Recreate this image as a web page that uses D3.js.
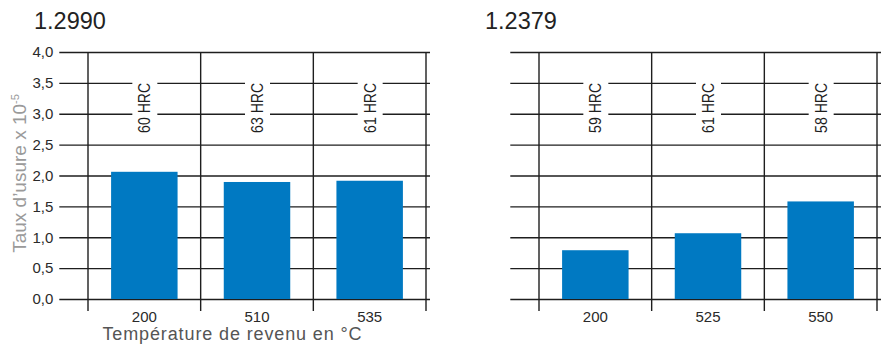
<!DOCTYPE html>
<html>
<head>
<meta charset="utf-8">
<script src="https://cdn.jsdelivr.net/npm/d3@7"></script>
<style>
  html, body { margin: 0; padding: 0; background: #fff; }
  svg { display: block; }
  text { font-family: "Liberation Sans", Arial, Helvetica, sans-serif; }
</style>
</head>
<body>
<svg id="chart" width="883" height="344"></svg>
<script>
// Wear rate (x 10^-5) by tempering temperature, two tool steels
const steels = ["1.2990", "1.2379"];

const temps2990 = ["200", "510", "535"];
const wear2990 = [2.06, 1.895, 1.915];
const hardness2990 = ["60 HRC", "63 HRC", "61 HRC"];

const temps2379 = ["200", "525", "550"];
const wear2379 = [0.79, 1.065, 1.58];
const hardness2379 = ["59 HRC", "61 HRC", "58 HRC"];

const yTicks = [0, 0.5, 1.0, 1.5, 2.0, 2.5, 3.0, 3.5, 4.0];
const yTickLabels = ["0,0", "0,5", "1,0", "1,5", "2,0", "2,5", "3,0", "3,5", "4,0"];

const yTitle = "Taux d\u2019usure x 10";
const yTitleExp = "-5";
const xTitle = "Température de revenu en °C";

const panels = [
  { name: steels[0], temps: temps2990, wear: wear2990, hrc: hardness2990, dx: 0, showY: true, showX: true },
  { name: steels[1], temps: temps2379, wear: wear2379, hrc: hardness2379, dx: 451, showY: false, showX: false }
];

const svg = d3.select("#chart");
const ink = "#1e1e1e";
const barColor = "#0079c2";

const y = d3.scaleLinear().domain([0, 4]).range([299, 52]);

const gridLeft = 59.3, bandLeft = 88, bandRight = 426, gridRight = 430;
const hrcLen = 50;

panels.forEach(p => {
  const g = svg.append("g").attr("transform", `translate(${p.dx},0)`);

  const x = d3.scaleBand().domain(p.temps).range([bandLeft, bandRight]).paddingInner(0).paddingOuter(0);
  const barW = x.bandwidth() * 0.59;

  // title
  g.append("text")
    .attr("x", 34).attr("y", 29)
    .attr("font-size", 23.5).attr("fill", "#222")
    .text(p.name);

  // horizontal grid + tick labels
  const yAxis = d3.axisLeft(y)
    .tickValues(yTicks)
    .tickSize(-(gridRight - gridLeft))
    .tickPadding(6)
    .tickFormat((d, i) => p.showY ? yTickLabels[i] : "");
  const ya = g.append("g").attr("transform", `translate(${gridLeft},0)`).call(yAxis);
  ya.select(".domain").remove();
  ya.selectAll(".tick line").attr("stroke", ink).attr("stroke-width", 1.4);
  ya.selectAll(".tick text").attr("font-size", 15).attr("fill", "#2a2a2a")
    .attr("font-family", "'Liberation Sans', Arial, sans-serif");

  // vertical column separators
  const edges = p.temps.map(t => x(t)).concat([x.range()[1]]);
  g.selectAll("line.vsep").data(edges).join("line")
    .attr("class", "vsep")
    .attr("x1", d => d).attr("x2", d => d)
    .attr("y1", y(4)).attr("y2", y(0) + 12)
    .attr("stroke", ink).attr("stroke-width", 1.4);

  // bars
  g.selectAll("rect.bar").data(p.wear).join("rect")
    .attr("class", "bar")
    .attr("x", (d, i) => x(p.temps[i]) + (x.bandwidth() - barW) / 2)
    .attr("width", barW)
    .attr("y", d => y(d))
    .attr("height", d => y(0) - y(d))
    .attr("fill", barColor);

  // hardness labels, rotated and condensed, on a white backing that breaks the grid lines
  const hg = g.selectAll("g.hrc").data(p.hrc).join("g")
    .attr("class", "hrc")
    .attr("transform", (d, i) => `translate(${x(p.temps[i]) + x.bandwidth() / 2 + 6},${y(3.5)}) rotate(-90)`);
  hg.append("rect")
    .attr("x", -hrcLen - 3).attr("y", -18)
    .attr("width", hrcLen + 6).attr("height", 25)
    .attr("fill", "#fff");
  hg.append("text")
    .attr("x", 0).attr("y", 0)
    .attr("text-anchor", "end")
    .attr("font-size", 16.3)
    .attr("textLength", hrcLen)
    .attr("lengthAdjust", "spacingAndGlyphs")
    .attr("fill", "#1e1e1e")
    .text(d => d);

  // category labels
  const xAxis = d3.axisBottom(x).tickSize(0).tickPadding(12);
  const xa = g.append("g").attr("transform", `translate(0,${y(0)})`).call(xAxis);
  xa.select(".domain").remove();
  xa.selectAll(".tick text").attr("font-size", 15).attr("fill", "#2a2a2a")
    .attr("font-family", "'Liberation Sans', Arial, sans-serif");

  if (p.showX) {
    g.append("text")
      .attr("x", 102.5).attr("y", 339.5)
      .attr("font-size", 18).attr("fill", "#555")
      .attr("textLength", 259)
      .text(xTitle);
  }

  if (p.showY) {
    const t = g.append("text")
      .attr("transform", "translate(26,173.5) rotate(-90)")
      .attr("text-anchor", "middle")
      .attr("font-size", 19).attr("fill", "#9a9a9a");
    t.append("tspan").text(yTitle);
    t.append("tspan").attr("font-size", 11).attr("dy", -7.5).text(yTitleExp);
  }
});
</script>
</body>
</html>
